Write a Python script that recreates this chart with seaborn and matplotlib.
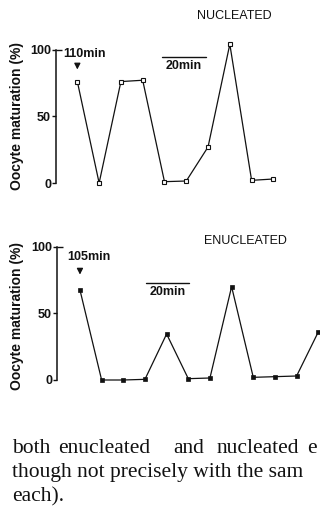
import matplotlib
matplotlib.use("Agg")
import matplotlib.pyplot as plt
import seaborn as sns
import pandas as pd

# ---- data ----
nuc_time = [110, 120, 130, 140, 150, 160, 170, 180, 190, 200]
nuc_pct = [76, 0, 76, 77, 1, 1.5, 27, 104, 2, 3]
enuc_time = [105, 115, 125, 135, 145, 155, 165, 175, 185, 195, 205, 215]
enuc_pct = [67.5, 0, 0, 0.5, 34.5, 1, 1.5, 70, 2, 2.5, 3, 36]
yticks = [0, 50, 100]
ytick_labels = ["0", "50", "100"]
ylabel = "Oocyte maturation (%)"
title_top = "NUCLEATED"
title_bot = "ENUCLEATED"
start_top = "110min"
start_bot = "105min"
scale_label = "20min"
scale_len = 20
para_line1 = ["both", "enucleated", "and", "nucleated", "e"]
para_line2 = "though not precisely with the sam"
para_line3 = "each)."

sns.set_style("white")
plt.rcParams["font.family"] = ["Liberation Sans", "DejaVu Sans"]

W, H = 320, 512
fig = plt.figure(figsize=(W / 100, H / 100), dpi=100)
INK = "#111111"


def fx(px):
    return px / W


def fy(py):
    return 1 - py / H


ax1 = fig.add_axes([fx(56), fy(190), 1 - fx(56), 155 / H])
ax2 = fig.add_axes([fx(57), fy(388), 1 - fx(57), 156 / H])

df1 = pd.DataFrame({"t": nuc_time, "p": nuc_pct})
df2 = pd.DataFrame({"t": enuc_time, "p": enuc_pct})

sns.lineplot(data=df1, x="t", y="p", ax=ax1, color=INK, lw=0.9,
             marker="s", markersize=3.2, markerfacecolor="white",
             markeredgecolor=INK, markeredgewidth=0.8, clip_on=False)
sns.lineplot(data=df2, x="t", y="p", ax=ax2, color=INK, lw=0.9,
             marker="s", markersize=3.0, markerfacecolor=INK,
             markeredgecolor=INK, markeredgewidth=0.5, clip_on=False)

ax1.set_xlim(100.2, 221.4)
ax1.set_ylim(-5.24, 110.9)
ax2.set_xlim(94.4, 215.8)
ax2.set_ylim(-6.0, 111.0)

for ax in (ax1, ax2):
    ax.set_facecolor("none")
    for s in ("top", "right", "bottom"):
        ax.spines[s].set_visible(False)
    ax.spines["left"].set_bounds(0, 100)
    ax.spines["left"].set_color(INK)
    ax.spines["left"].set_linewidth(1.1)
    ax.set_xticks([])
    ax.set_yticks(yticks)
    ax.set_yticklabels(ytick_labels, fontsize=9, fontweight="bold", color=INK)
    ax.tick_params(axis="y", direction="out", length=3, width=1.0,
                   pad=0.5, colors=INK, left=True)
    ax.set_xlabel("")
    ax.set_ylabel("")
    # small cap at the top of the axis (tick crossing to the right)
    ax.plot([0, 0.022], [yticks[-1], yticks[-1]], color=INK, lw=1.0,
            transform=ax.get_yaxis_transform(), clip_on=False,
            solid_capstyle="butt")

# y labels
fig.text(fx(17.5), fy(116.5), ylabel, rotation=90, ha="center", va="center",
         fontsize=10, fontweight="bold", color=INK)
fig.text(fx(17.5), fy(316), ylabel, rotation=90, ha="center", va="center",
         fontsize=10, fontweight="bold", color=INK)

# titles
fig.text(fx(197), fy(16), title_top, ha="left", va="center", fontsize=9,
         color=INK)
fig.text(fx(204), fy(240.5), title_bot, ha="left", va="center", fontsize=9,
         color=INK)

# start annotations
ax1.text(103.6, 96.4, start_top, ha="left", va="center", fontsize=9,
         fontweight="bold", color=INK)
ax1.annotate("", xy=(nuc_time[0], 83), xytext=(nuc_time[0], 90),
             arrowprops=dict(arrowstyle="-|>,head_length=0.35,head_width=0.18",
                             color=INK, lw=0.9))
ax2.text(99.0, 92.3, start_bot, ha="left", va="center", fontsize=9,
         fontweight="bold", color=INK)
ax2.annotate("", xy=(enuc_time[0], 77), xytext=(enuc_time[0], 84),
             arrowprops=dict(arrowstyle="-|>,head_length=0.35,head_width=0.18",
                             color=INK, lw=0.9))

# scale bars
t0 = 148.9
ax1.plot([t0, t0 + scale_len], [94.4, 94.4], color=INK, lw=1.0)
ax1.text(t0 + scale_len / 2, 87.6, scale_label, ha="center", va="center",
         fontsize=9, fontweight="bold", color=INK)
t1 = 135.3
ax2.plot([t1, t1 + scale_len], [73, 73], color=INK, lw=1.0)
ax2.text(t1 + scale_len / 2, 66.2, scale_label, ha="center", va="center",
         fontsize=9, fontweight="bold", color=INK)

# paragraph text below
serif = ["Liberation Serif", "DejaVu Serif"]
xs1 = [12, 58, 173, 217, 307]
for w, xp in zip(para_line1, xs1):
    fig.text(fx(xp), fy(453), w, ha="left", va="baseline", fontsize=15.5,
             family=serif, color=INK)
fig.text(fx(12), fy(477), para_line2, ha="left", va="baseline",
         fontsize=15.5, family=serif, color=INK)
fig.text(fx(12), fy(501), para_line3, ha="left", va="baseline",
         fontsize=15.5, family=serif, color=INK)

fig.savefig("out.png", dpi=100)
